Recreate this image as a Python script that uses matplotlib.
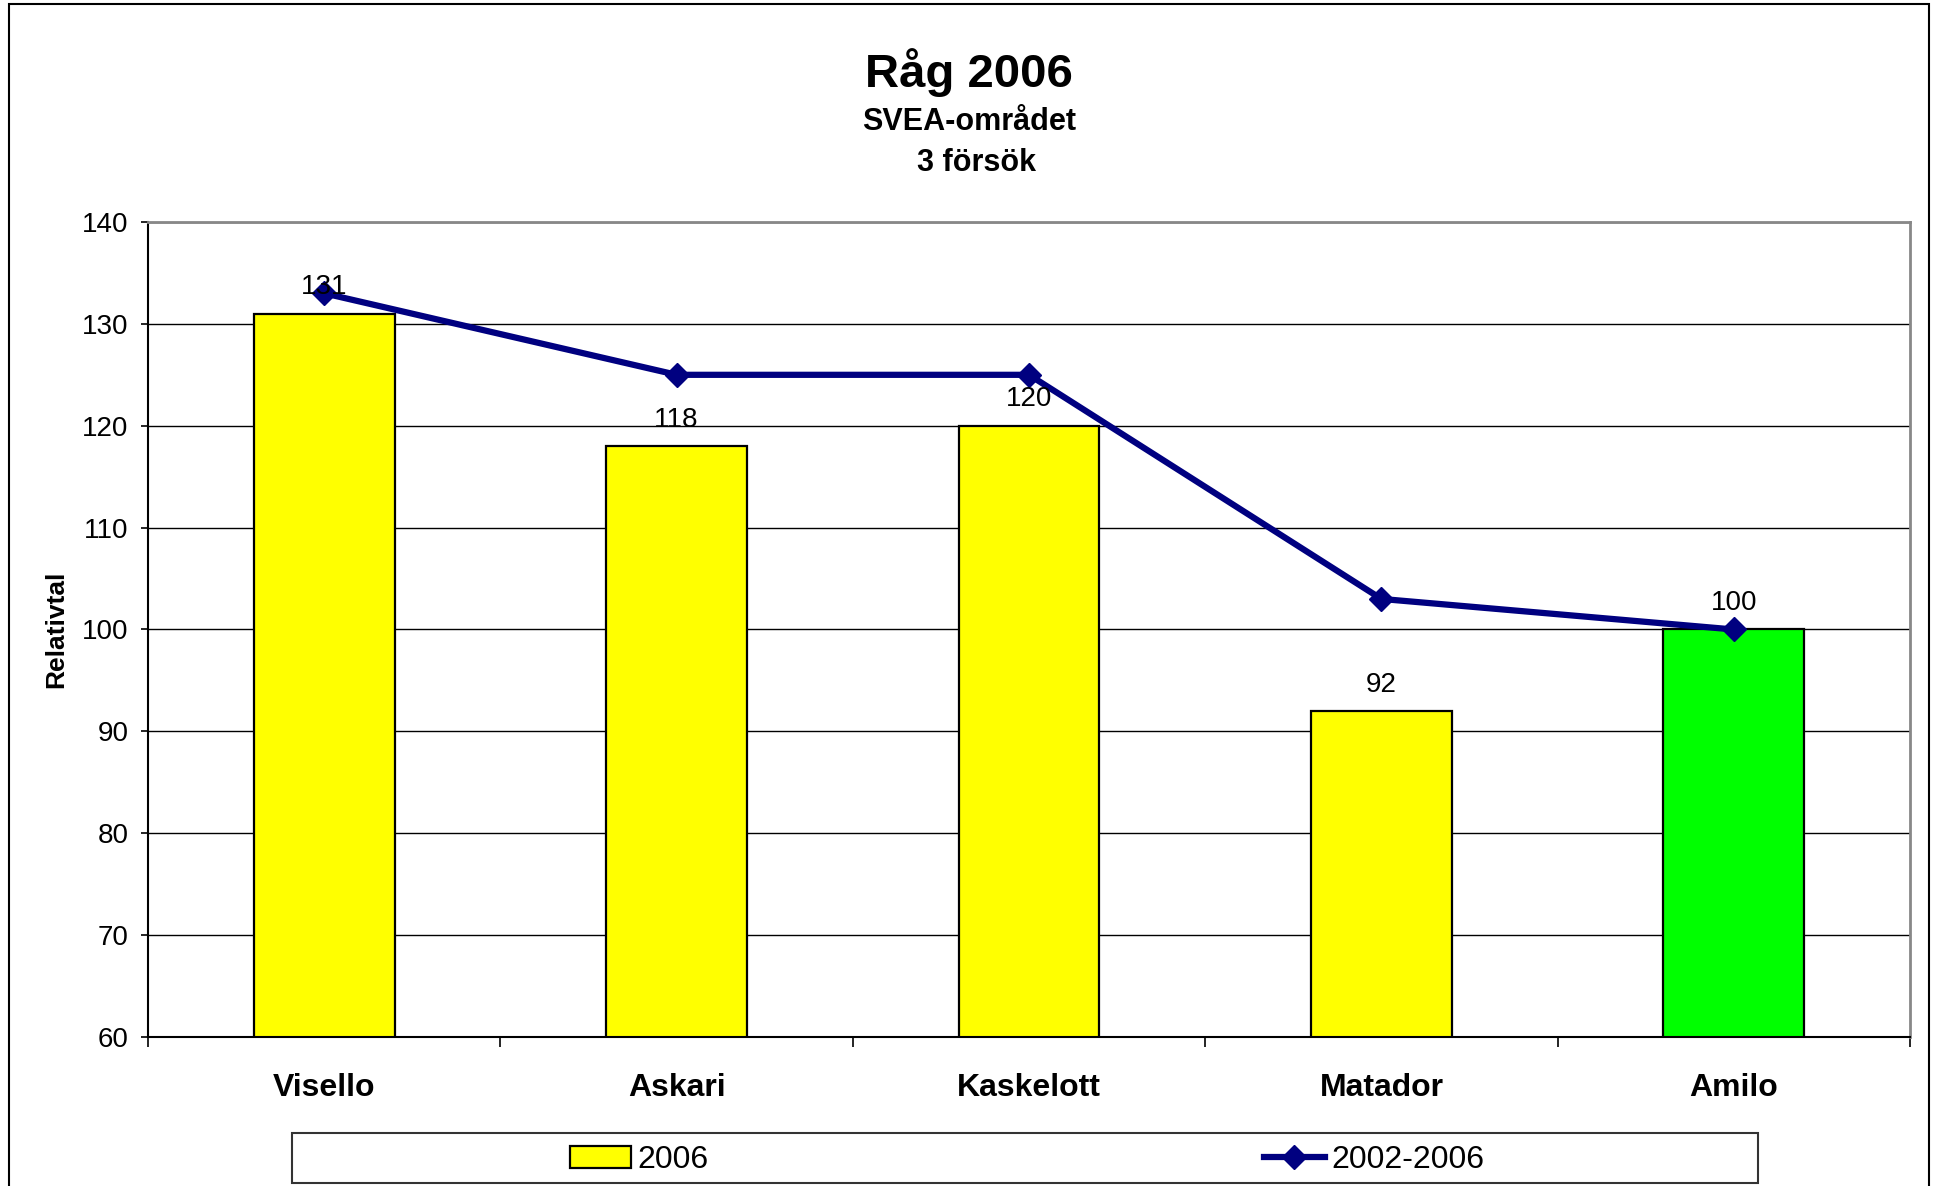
import numpy as np
import matplotlib.pyplot as plt
from matplotlib.patches import Rectangle
from matplotlib.lines import Line2D
from matplotlib.patches import Patch

# Data
sorter = ["Visello", "Askari", "Kaskelott", "Matador", "Amilo"]
varden_2006 = [131, 118, 120, 92, 100]
varden_2002_2006 = [133, 125, 125, 103, 100]
bar_colors = ["#FFFF00", "#FFFF00", "#FFFF00", "#FFFF00", "#00FF00"]
y_ticks = [60, 70, 80, 90, 100, 110, 120, 130, 140]

plt.rcParams['font.family'] = ['Liberation Sans', 'DejaVu Sans']

fig = plt.figure(figsize=(19.34, 11.86), dpi=100)
ax = fig.add_axes([148/1934, 1 - 1037/1186, (1910 - 148)/1934, (1037 - 222)/1186])

x = np.arange(len(sorter))

# Bars for 2006
ax.bar(x, varden_2006, width=0.4, bottom=0, color=bar_colors,
       edgecolor='black', linewidth=1.6, zorder=2)

# Line for 2002-2006
ax.plot(x, varden_2002_2006, color='#000080', linewidth=4.5, marker='D',
        markersize=12, zorder=3)

# Data labels above the bars
for xi, v in zip(x, varden_2006):
    ax.annotate(str(v), (xi, v), xytext=(0, 19), textcoords='offset points',
                ha='center', va='center', fontsize=20, zorder=4)

ax.set_xlim(-0.5, len(sorter) - 0.5)
ax.set_ylim(60, 140)
ax.set_yticks(y_ticks)
ax.yaxis.grid(True, color='black', linewidth=1.0, zorder=0)
ax.set_axisbelow(True)

# Ticks at category boundaries, labels at centres
ax.set_xticks(np.arange(-0.5, len(sorter), 1.0))
ax.set_xticklabels([])
ax.set_xticks(x, minor=True)
ax.set_xticklabels(sorter, minor=True, fontsize=23, fontweight='bold')
ax.tick_params(axis='x', which='major', direction='out', length=7, width=1.2)
ax.tick_params(axis='x', which='minor', length=0, pad=26)
ax.tick_params(axis='y', direction='out', length=5, width=1.2, pad=9,
               labelsize=20)

ax.spines['left'].set_color('black')
ax.spines['bottom'].set_color('black')
ax.spines['left'].set_linewidth(1.5)
ax.spines['bottom'].set_linewidth(1.5)
ax.spines['top'].set_color('#888888')
ax.spines['right'].set_color('#888888')
ax.spines['top'].set_linewidth(2)
ax.spines['right'].set_linewidth(2)

ax.set_ylabel('Relativtal', fontsize=19, fontweight='bold', labelpad=10)

# Titles
fig.text(0.501, 1 - 73/1186, 'Råg 2006', ha='center', va='center',
         fontsize=34, fontweight='bold')
fig.text(0.501, 1 - 122/1186, 'SVEA-området', ha='center', va='center',
         fontsize=22, fontweight='bold')
fig.text(0.505, 1 - 163/1186, '3 försök', ha='center', va='center',
         fontsize=22, fontweight='bold')

# Legend frame and entries
fig.patches.append(Rectangle((292/1934, 1 - 1183/1186), (1758 - 292)/1934,
                             (1183 - 1133)/1186, transform=fig.transFigure,
                             facecolor='white', edgecolor='#333333',
                             linewidth=1.5, zorder=1))
handles = [Patch(facecolor='#FFFF00', edgecolor='black', linewidth=1.6),
           Line2D([0], [0], color='#000080', linewidth=4.5, marker='D',
                  markersize=12)]
fig.legend(handles, ['2006', '2002-2006'], loc='center',
           bbox_to_anchor=(1027/1934, 1 - 1160/1186), ncol=2, frameon=False,
           fontsize=23, handlelength=1.9, handletextpad=0.2,
           columnspacing=17.4)

# Outer chart border
fig.patches.append(Rectangle((9/1934, -0.01), (1929 - 9)/1934, 1.01 - 4/1186,
                             transform=fig.transFigure, fill=False,
                             edgecolor='black', linewidth=1.5))

fig.savefig('out.png', dpi=100)
